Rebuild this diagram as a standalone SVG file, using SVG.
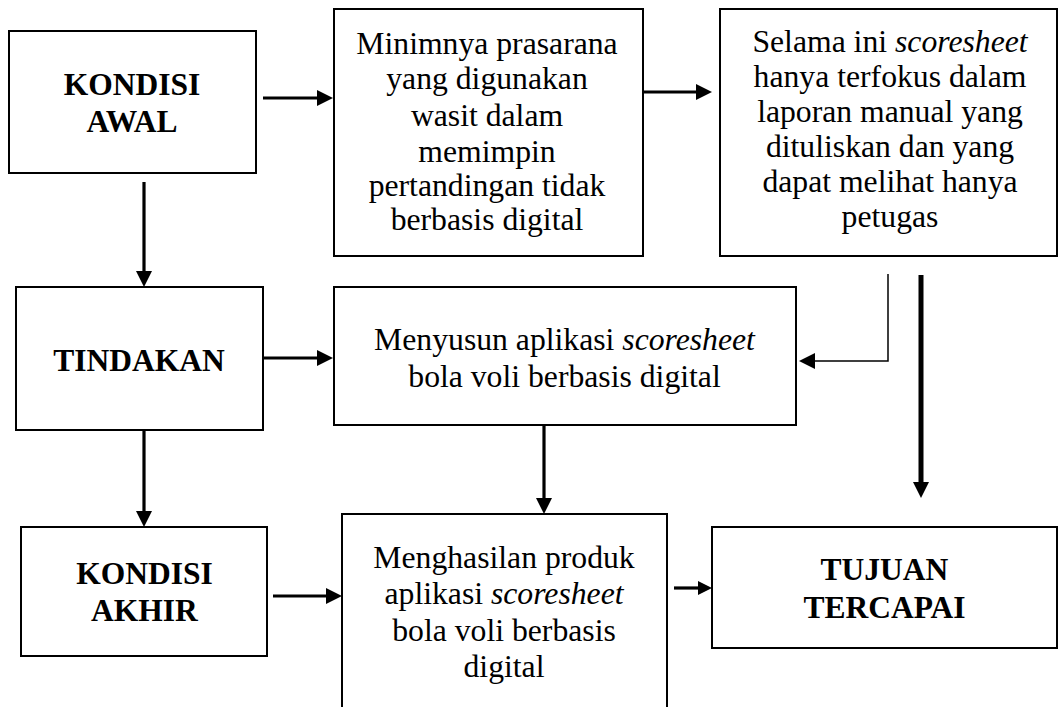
<svg xmlns="http://www.w3.org/2000/svg" width="1059" height="707" viewBox="0 0 1059 707">
  <style>
    .box { fill: #ffffff; stroke: #000000; stroke-width: 2; }
    .txt { font-family: "Liberation Serif", "Times New Roman", serif; font-size: 31.7px; fill: #000000; text-anchor: middle; }
    .bold { font-weight: bold; font-size: 31.5px; }
    .it { font-style: italic; }
    .link { fill: none; stroke: #000000; stroke-width: 3.2; }
    .link-thick { fill: none; stroke: #000000; stroke-width: 5; }
    .link-thin { fill: none; stroke: #000000; stroke-width: 1.5; }
  </style>
  <defs>
    <marker id="head" viewBox="0 0 16 16" refX="6" refY="8" markerWidth="16" markerHeight="16" markerUnits="userSpaceOnUse" orient="auto">
      <path d="M0,0 L16,8 L0,16 Z" fill="#000000"/>
    </marker>
    <marker id="head-small" viewBox="0 0 14 14" refX="5" refY="7" markerWidth="14" markerHeight="14" markerUnits="userSpaceOnUse" orient="auto">
      <path d="M0,0 L14,7 L0,14 Z" fill="#000000"/>
    </marker>
  </defs>

  <rect width="1059" height="707" fill="#ffffff"/>

  <g id="connectors">
    <!-- kondisi awal -> minimnya prasarana -->
    <line class="link" x1="263" y1="98" x2="323" y2="98" marker-end="url(#head)"/>
    <!-- minimnya prasarana -> selama ini -->
    <line class="link" x1="643" y1="92" x2="702" y2="92" marker-end="url(#head)"/>
    <!-- kondisi awal -> tindakan -->
    <line class="link" x1="144" y1="182" x2="144" y2="277" marker-end="url(#head)"/>
    <!-- tindakan -> menyusun -->
    <line class="link" x1="263" y1="358" x2="323" y2="358" marker-end="url(#head)"/>
    <!-- tindakan -> kondisi akhir -->
    <line class="link" x1="144" y1="430" x2="144" y2="517" marker-end="url(#head)"/>
    <!-- menyusun -> menghasilan -->
    <line class="link" x1="544" y1="426" x2="544" y2="504" marker-end="url(#head)"/>
    <!-- kondisi akhir -> menghasilan -->
    <line class="link" x1="273" y1="596" x2="332" y2="596" marker-end="url(#head)"/>
    <!-- menghasilan -> tujuan -->
    <line class="link" x1="674" y1="588" x2="703" y2="588" marker-end="url(#head-small)"/>
    <!-- selama ini -> tujuan (thick) -->
    <line class="link-thick" x1="921" y1="275" x2="921" y2="488" marker-end="url(#head)"/>
    <!-- selama ini -> menyusun (thin elbow) -->
    <polyline class="link-thin" points="888,274 888,361 809,361" marker-end="url(#head)"/>
  </g>

  <g id="kondisi-awal">
    <rect class="box" x="9" y="31" width="247" height="142"/>
    <text class="txt bold" x="132" y="95">KONDISI</text>
    <text class="txt bold" x="132" y="132">AWAL</text>
  </g>

  <g id="minimnya-prasarana">
    <rect class="box" x="334" y="9" width="309" height="247"/>
    <text class="txt" x="487" y="54">Minimnya prasarana</text>
    <text class="txt" x="487" y="89">yang digunakan</text>
    <text class="txt" x="487" y="126">wasit dalam</text>
    <text class="txt" x="487" y="162">memimpin</text>
    <text class="txt" x="487" y="196">pertandingan tidak</text>
    <text class="txt" x="487" y="230">berbasis digital</text>
  </g>

  <g id="selama-ini">
    <rect class="box" x="720" y="9" width="337" height="247"/>
    <text class="txt" x="890" y="52">Selama ini <tspan class="it">scoresheet</tspan></text>
    <text class="txt" x="890" y="87">hanya terfokus dalam</text>
    <text class="txt" x="890" y="122">laporan manual yang</text>
    <text class="txt" x="890" y="157">dituliskan dan yang</text>
    <text class="txt" x="890" y="192">dapat melihat hanya</text>
    <text class="txt" x="890" y="227">petugas</text>
  </g>

  <g id="tindakan">
    <rect class="box" x="16" y="287" width="247" height="143"/>
    <text class="txt bold" x="139" y="371">TINDAKAN</text>
  </g>

  <g id="menyusun">
    <rect class="box" x="334" y="287" width="462" height="138"/>
    <text class="txt" x="564.5" y="350">Menyusun aplikasi <tspan class="it">scoresheet</tspan></text>
    <text class="txt" x="564.5" y="387">bola voli berbasis digital</text>
  </g>

  <g id="kondisi-akhir">
    <rect class="box" x="21" y="527" width="246" height="129"/>
    <text class="txt bold" x="144.5" y="584">KONDISI</text>
    <text class="txt bold" x="144.5" y="621">AKHIR</text>
  </g>

  <g id="menghasilan">
    <rect class="box" x="342" y="514" width="325" height="220"/>
    <text class="txt" x="504" y="568">Menghasilan produk</text>
    <text class="txt" x="504" y="604">aplikasi <tspan class="it">scoresheet</tspan></text>
    <text class="txt" x="504" y="641">bola voli berbasis</text>
    <text class="txt" x="504" y="677">digital</text>
  </g>

  <g id="tujuan-tercapai">
    <rect class="box" x="712" y="527" width="345" height="121"/>
    <text class="txt bold" x="884.5" y="580">TUJUAN</text>
    <text class="txt bold" x="884.5" y="618">TERCAPAI</text>
  </g>
</svg>
